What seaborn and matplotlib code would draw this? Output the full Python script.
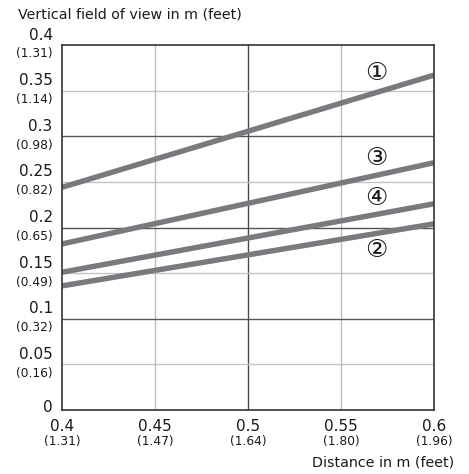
import matplotlib
matplotlib.use("Agg")
import matplotlib.pyplot as plt
import matplotlib.transforms as mtransforms
import seaborn as sns
import pandas as pd

# ---- data ----
distance = [0.4, 0.6]
series_names = ["①", "③", "④", "②"]
fov_1 = [0.244, 0.367]
fov_3 = [0.182, 0.271]
fov_4 = [0.151, 0.226]
fov_2 = [0.136, 0.204]
label_x = [0.569, 0.569, 0.569, 0.569]
label_y = [0.369, 0.2765, 0.2327, 0.175]

x_ticks = [0.4, 0.45, 0.5, 0.55, 0.6]
x_tick_main = ["0.4", "0.45", "0.5", "0.55", "0.6"]
x_tick_feet = ["(1.31)", "(1.47)", "(1.64)", "(1.80)", "(1.96)"]
y_ticks = [0, 0.05, 0.1, 0.15, 0.2, 0.25, 0.3, 0.35, 0.4]
y_tick_main = ["0", "0.05", "0.1", "0.15", "0.2", "0.25", "0.3", "0.35", "0.4"]
y_tick_feet = ["", "(0.16)", "(0.32)", "(0.49)", "(0.65)", "(0.82)", "(0.98)", "(1.14)", "(1.31)"]

sns.set_style("white")
plt.rcParams["font.family"] = ["DejaVu Sans"]

rows = []
for name, vals in zip(series_names, [fov_1, fov_3, fov_4, fov_2]):
    for x, y in zip(distance, vals):
        rows.append({"distance": x, "fov": y, "series": name})
df = pd.DataFrame(rows)

fig = plt.figure(figsize=(4.69, 4.74), dpi=100)
ax = fig.add_axes([62 / 469, 1 - 410 / 474, 372 / 469, 365 / 474])

line_col = "#7a7a7e"
sns.lineplot(data=df, x="distance", y="fov", hue="series",
             palette={n: line_col for n in series_names},
             linewidth=3.9, legend=False, ax=ax, solid_capstyle="butt")

ax.set_xlim(0.4, 0.6)
ax.set_ylim(0, 0.4)

# grid
for xv in x_ticks[1:-1]:
    major = abs(xv - 0.5) < 1e-9
    ax.axvline(xv, color="#4a4a4a" if major else "#bdbdbd", lw=1.0, zorder=0)
for yv in y_ticks[1:-1]:
    major = any(abs(yv - m) < 1e-9 for m in (0.1, 0.2, 0.3))
    ax.axhline(yv, color="#555555" if major else "#c4c4c4", lw=1.0, zorder=0)

for sp in ax.spines.values():
    sp.set_color("#333333")
    sp.set_linewidth(1.2)

ax.set_xticks(x_ticks)
ax.set_yticks(y_ticks)
ax.set_xticklabels([])
ax.set_yticklabels([])
ax.tick_params(length=0)
ax.set_xlabel("")
ax.set_ylabel("")

txt_col = "#1a1a1a"
main_fs = 11
feet_fs = 8.8
# y tick labels
ytrans = mtransforms.blended_transform_factory(ax.transAxes, ax.transData)
for yv, m, f in zip(y_ticks, y_tick_main, y_tick_feet):
    if f:
        ax.text(-0.025, yv, m, transform=ytrans + mtransforms.ScaledTranslation(0, 10 / 100, fig.dpi_scale_trans),
                ha="right", va="center", fontsize=main_fs, color=txt_col)
        ax.text(-0.025, yv, f, transform=ytrans + mtransforms.ScaledTranslation(0, -9 / 100, fig.dpi_scale_trans),
                ha="right", va="center", fontsize=feet_fs, color=txt_col)
    else:
        ax.text(-0.025, yv, m, transform=ytrans + mtransforms.ScaledTranslation(0, 2 / 100, fig.dpi_scale_trans),
                ha="right", va="center", fontsize=main_fs, color=txt_col)

# x tick labels
xtrans = mtransforms.blended_transform_factory(ax.transData, ax.transAxes)
for xv, m, f in zip(x_ticks, x_tick_main, x_tick_feet):
    ax.text(xv, 0, m, transform=xtrans + mtransforms.ScaledTranslation(0, -16.5 / 100, fig.dpi_scale_trans),
            ha="center", va="center", fontsize=main_fs, color=txt_col)
    ax.text(xv, 0, f, transform=xtrans + mtransforms.ScaledTranslation(0, -31.5 / 100, fig.dpi_scale_trans),
            ha="center", va="center", fontsize=feet_fs, color=txt_col)

# series labels
for n, lx, ly in zip(series_names, label_x, label_y):
    ax.text(lx, ly, n, ha="center", va="center", fontsize=18, color=txt_col)

fig.text(18 / 469, 1 - 14 / 474, "Vertical field of view in m (feet)",
         ha="left", va="center", fontsize=10.3, color=txt_col)
fig.text(454 / 469, 1 - 463 / 474, "Distance in m (feet)",
         ha="right", va="center", fontsize=10.3, color=txt_col)

fig.savefig("out.png", dpi=100)
